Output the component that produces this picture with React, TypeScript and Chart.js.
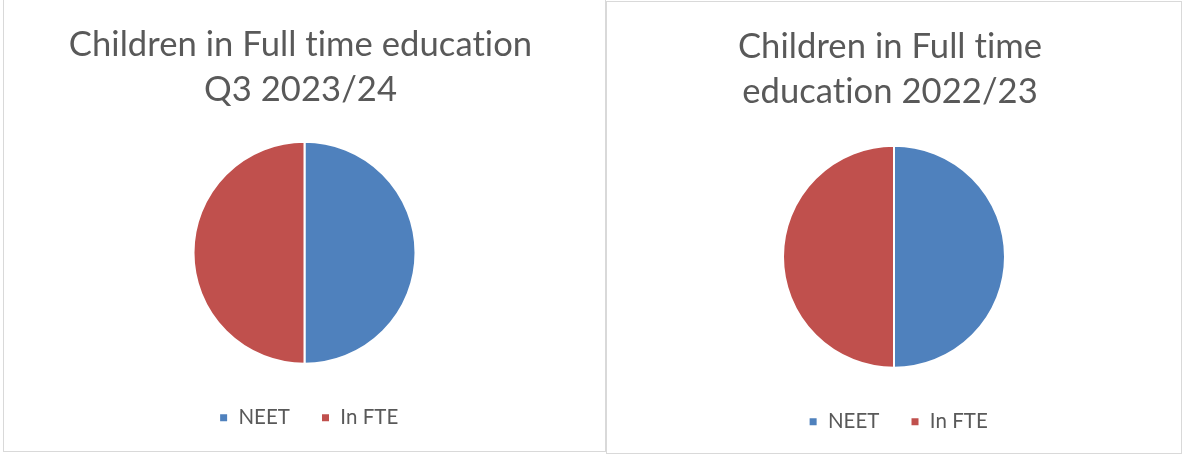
import React, { useEffect, useRef } from "react";
import { Chart, registerables } from "chart.js";

Chart.register(...registerables);

const categories = ["NEET", "In FTE"];
const valuesQ3_2023_24 = [50, 50];
const values2022_23 = [50, 50];
const titleLeft = ["Children in Full time education", "Q3 2023/24"];
const titleRight = ["Children in Full time", "education 2022/23"];
const sliceColors = ["#4F81BD", "#C0504D"];

const noLigatures = {
  id: "noLigatures",
  beforeDraw(chart: any) {
    try {
      (chart.ctx as any).letterSpacing = "0.05px";
    } catch (e) {}
  },
};

const boxShift = {
  id: "boxShift",
  afterLayout(chart: any) {
    const lg = chart.legend;
    if (lg) {
      lg.left += 4;
      lg.right += 4;
    }
    const tt = chart.titleBlock;
    if (tt) {
      tt.left -= 4;
      tt.right -= 4;
    }
  },
};

type PieProps = {
  title: string[];
  values: number[];
  width: number;
  height: number;
  padBottom: number;
  titlePadBottom: number;
};

function PiePanel({ title, values, width, height, padBottom, titlePadBottom }: PieProps) {
  const ref = useRef<HTMLCanvasElement | null>(null);
  useEffect(() => {
    if (!ref.current) return;
    const chart = new Chart(ref.current, {
      type: "pie",
      data: {
        labels: categories,
        datasets: [
          {
            data: values,
            backgroundColor: sliceColors,
            borderColor: "#ffffff",
            borderWidth: 2,
            radius: 111,
          },
        ],
      },
      options: {
        animation: false,
        responsive: false,
        devicePixelRatio: 1,
        layout: { padding: { top: 0, bottom: padBottom, left: 0, right: 0 } },
        plugins: {
          title: {
            display: true,
            text: title,
            color: "#595959",
            font: { family: "Lato", size: 34.6, weight: "normal", lineHeight: 45 / 34.6 },
            padding: { top: 22, bottom: titlePadBottom },
          },
          legend: {
            display: true,
            position: "bottom",
            labels: {
              color: "#595959",
              font: { family: "Lato", size: 20.5 },
              boxWidth: 9,
              boxHeight: 9,
              padding: 31,
            },
          },
          tooltip: { enabled: false },
        },
      },
      plugins: [noLigatures, boxShift],
    });
    return () => chart.destroy();
  }, []);
  return <canvas ref={ref} width={width} height={height} style={{ display: "block" }} />;
}

export default function App() {
  const panel: React.CSSProperties = {
    position: "absolute",
    border: "1px solid #d9d9d9",
    background: "#fff",
  };
  return (
    <div>
      <div style={{ ...panel, left: 3, top: -1, width: 601, height: 451 }}>
        <PiePanel title={titleLeft} values={valuesQ3_2023_24} width={601} height={451} padBottom={13} titlePadBottom={17} />
      </div>
      <div style={{ ...panel, left: 606, top: 1, width: 574, height: 451 }}>
        <PiePanel title={titleRight} values={values2022_23} width={574} height={451} padBottom={11} titlePadBottom={19} />
      </div>
    </div>
  );
}
